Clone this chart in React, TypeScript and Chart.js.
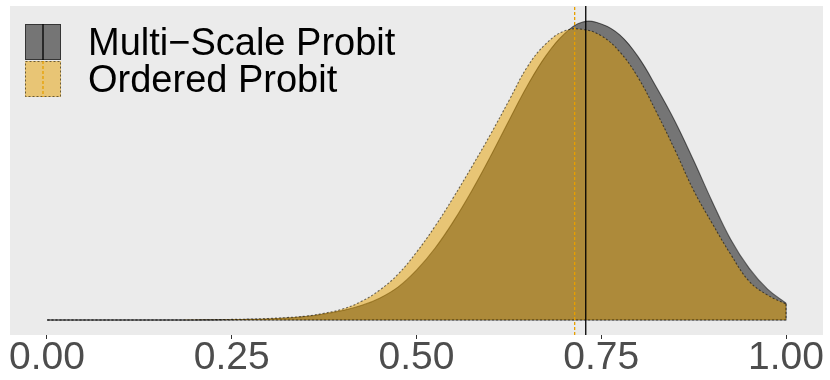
import React, { useEffect, useRef } from "react";
import { Chart, registerables } from "chart.js";

Chart.register(...registerables);

// Grid of x values at which the densities were read
const X_GRID = [
  0, 0.025, 0.05, 0.075, 0.1, 0.125, 0.15, 0.175, 0.2, 0.225,
  0.25, 0.275, 0.3, 0.325, 0.35, 0.375, 0.4, 0.425, 0.45, 0.475,
  0.5, 0.525, 0.55, 0.575, 0.6, 0.625, 0.65, 0.675, 0.7, 0.725,
  0.75, 0.775, 0.8, 0.825, 0.85, 0.875, 0.9, 0.925, 0.95, 0.975, 1.0,
];

// Multi-Scale Probit density
const MULTI_SCALE = [
  0, 0, 0, 0, 0, 0, 0, 0, 0.001, 0.002,
  0.004, 0.007, 0.011, 0.022, 0.039, 0.067, 0.106, 0.161, 0.244, 0.367,
  0.556, 0.8, 1.1, 1.444, 1.822, 2.222, 2.611, 2.944, 3.189, 3.322,
  3.3, 3.178, 2.933, 2.589, 2.211, 1.778, 1.322, 0.9, 0.578, 0.344, 0.189,
];

// Ordered Probit density
const ORDERED = [
  0, 0, 0, 0, 0, 0, 0, 0, 0.002, 0.004,
  0.007, 0.011, 0.018, 0.028, 0.044, 0.076, 0.122, 0.206, 0.333, 0.511,
  0.756, 1.044, 1.367, 1.711, 2.067, 2.444, 2.822, 3.078, 3.222, 3.239,
  3.167, 2.989, 2.7, 2.311, 1.889, 1.444, 1.078, 0.733, 0.433, 0.278, 0.178,
];

// Means (vertical reference lines)
const MEAN_MULTI_SCALE = 0.729;
const MEAN_ORDERED = 0.714;

const X_TICKS = [0, 0.25, 0.5, 0.75, 1.0];
const SERIES_NAMES = ["Multi\u2212Scale Probit", "Ordered Probit"];

const Y_PEAK = 3.333;
const Y_MIN = -0.05 * Y_PEAK;
const Y_MAX = 1.05 * Y_PEAK;

const PANEL_BG = "#EBEBEB";
const GREY_FILL = "rgba(0,0,0,0.5)";
const GOLD_FILL = "rgba(230,159,0,0.5)";
const OUTLINE = "rgba(0,0,0,0.55)";
const ORANGE = "#E69F00";

export default function App() {
  const ref = useRef<HTMLCanvasElement | null>(null);

  useEffect(() => {
    document.body.style.margin = "0";
    const canvas = ref.current;
    if (!canvas) return;

    const toPts = (arr: number[]) => X_GRID.map((x, i) => ({ x, y: arr[i] }));
    const edgePts = (arr: number[]) => [
      { x: X_GRID[X_GRID.length - 1], y: arr[arr.length - 1] },
      { x: X_GRID[X_GRID.length - 1], y: 0 },
      { x: X_GRID[0], y: 0 },
    ];

    const panelBg = {
      id: "panelBg",
      beforeDraw(chart: any) {
        const { ctx, chartArea } = chart;
        ctx.save();
        ctx.fillStyle = PANEL_BG;
        ctx.fillRect(chartArea.left, chartArea.top, chartArea.right - chartArea.left, chartArea.bottom - chartArea.top);
        ctx.restore();
      },
    };

    const legendPlugin = {
      id: "customLegend",
      afterDraw(chart: any) {
        const { ctx } = chart;
        ctx.save();
        const keyX = 25;
        const keyW = 36;
        const keys = [
          { y: 24, fill: GREY_FILL, dash: [] as number[], line: "#000000", lineDash: [] as number[] },
          { y: 61, fill: GOLD_FILL, dash: [2, 2], line: ORANGE, lineDash: [3, 2] },
        ];
        keys.forEach((k, i) => {
          ctx.fillStyle = k.fill;
          ctx.fillRect(keyX, k.y, keyW, keyW);
          ctx.strokeStyle = OUTLINE;
          ctx.lineWidth = 1;
          ctx.setLineDash(k.dash);
          ctx.strokeRect(keyX + 0.5, k.y + 0.5, keyW - 1, keyW - 1);
          ctx.setLineDash(k.lineDash);
          ctx.strokeStyle = k.line;
          ctx.lineWidth = 1.3;
          ctx.beginPath();
          ctx.moveTo(keyX + keyW / 2, k.y);
          ctx.lineTo(keyX + keyW / 2, k.y + keyW);
          ctx.stroke();
          ctx.setLineDash([]);
          ctx.fillStyle = "#000000";
          ctx.font = "38px 'Liberation Sans', Arial, sans-serif";
          ctx.textBaseline = "alphabetic";
          ctx.textAlign = "left";
          ctx.fillText(SERIES_NAMES[i], 88, i === 0 ? 55 : 92);
        });
        ctx.restore();
      },
    };

    const common = { pointRadius: 0, borderWidth: 1.1 };

    const chart = new Chart(canvas, {
      type: "line",
      data: {
        datasets: [
          {
            ...common,
            label: SERIES_NAMES[0],
            data: toPts(MULTI_SCALE),
            fill: "origin",
            backgroundColor: GREY_FILL,
            borderColor: OUTLINE,
            tension: 0.4,
            order: 4,
          },
          {
            ...common,
            label: "ms-edge",
            data: edgePts(MULTI_SCALE),
            fill: false,
            borderColor: OUTLINE,
            tension: 0,
            order: 3,
          },
          {
            ...common,
            label: SERIES_NAMES[1],
            data: toPts(ORDERED),
            fill: "origin",
            backgroundColor: GOLD_FILL,
            borderColor: OUTLINE,
            borderDash: [2, 2],
            tension: 0.4,
            order: 2,
          },
          {
            ...common,
            label: "op-edge",
            data: edgePts(ORDERED),
            fill: false,
            borderColor: OUTLINE,
            borderDash: [2, 2],
            tension: 0,
            order: 1,
          },
          {
            label: "ms-mean",
            data: [
              { x: MEAN_MULTI_SCALE, y: Y_MIN },
              { x: MEAN_MULTI_SCALE, y: Y_MAX },
            ],
            fill: false,
            borderColor: "#000000",
            borderWidth: 1.3,
            pointRadius: 0,
            tension: 0,
            order: 0,
          },
          {
            label: "op-mean",
            data: [
              { x: MEAN_ORDERED, y: Y_MIN },
              { x: MEAN_ORDERED, y: Y_MAX },
            ],
            fill: false,
            borderColor: ORANGE,
            borderWidth: 1.3,
            borderDash: [3, 2],
            pointRadius: 0,
            tension: 0,
            order: 0,
          },
        ],
      },
      options: {
        animation: false,
        responsive: false,
        maintainAspectRatio: false,
        layout: { padding: { left: 10, right: 7, top: 6, bottom: 0 } },
        plugins: {
          legend: { display: false },
          tooltip: { enabled: false },
        },
        scales: {
          x: {
            type: "linear",
            min: -0.05,
            max: 1.05,
            afterBuildTicks: (scale: any) => {
              scale.ticks = X_TICKS.map((v) => ({ value: v }));
            },
            afterFit: (scale: any) => {
              scale.height = 45;
              scale.paddingLeft = 0;
              scale.paddingRight = 0;
            },
            border: { display: false },
            grid: {
              drawOnChartArea: false,
              drawTicks: true,
              tickLength: 4,
              tickColor: "#333333",
              tickWidth: 1,
            },
            ticks: {
              autoSkip: false,
              maxRotation: 0,
              minRotation: 0,
              padding: 0,
              color: "#4D4D4D",
              font: { family: "'Liberation Sans', Arial, sans-serif", size: 39, lineHeight: 1 },
              callback: (v: any) => Number(v).toFixed(2),
            },
          },
          y: {
            type: "linear",
            display: false,
            min: Y_MIN,
            max: Y_MAX,
          },
        },
      },
      plugins: [panelBg, legendPlugin],
    });

    return () => chart.destroy();
  }, []);

  return (
    <div style={{ width: 830, height: 380 }}>
      <canvas ref={ref} width={830} height={380} style={{ display: "block", width: 830, height: 380 }} />
    </div>
  );
}
